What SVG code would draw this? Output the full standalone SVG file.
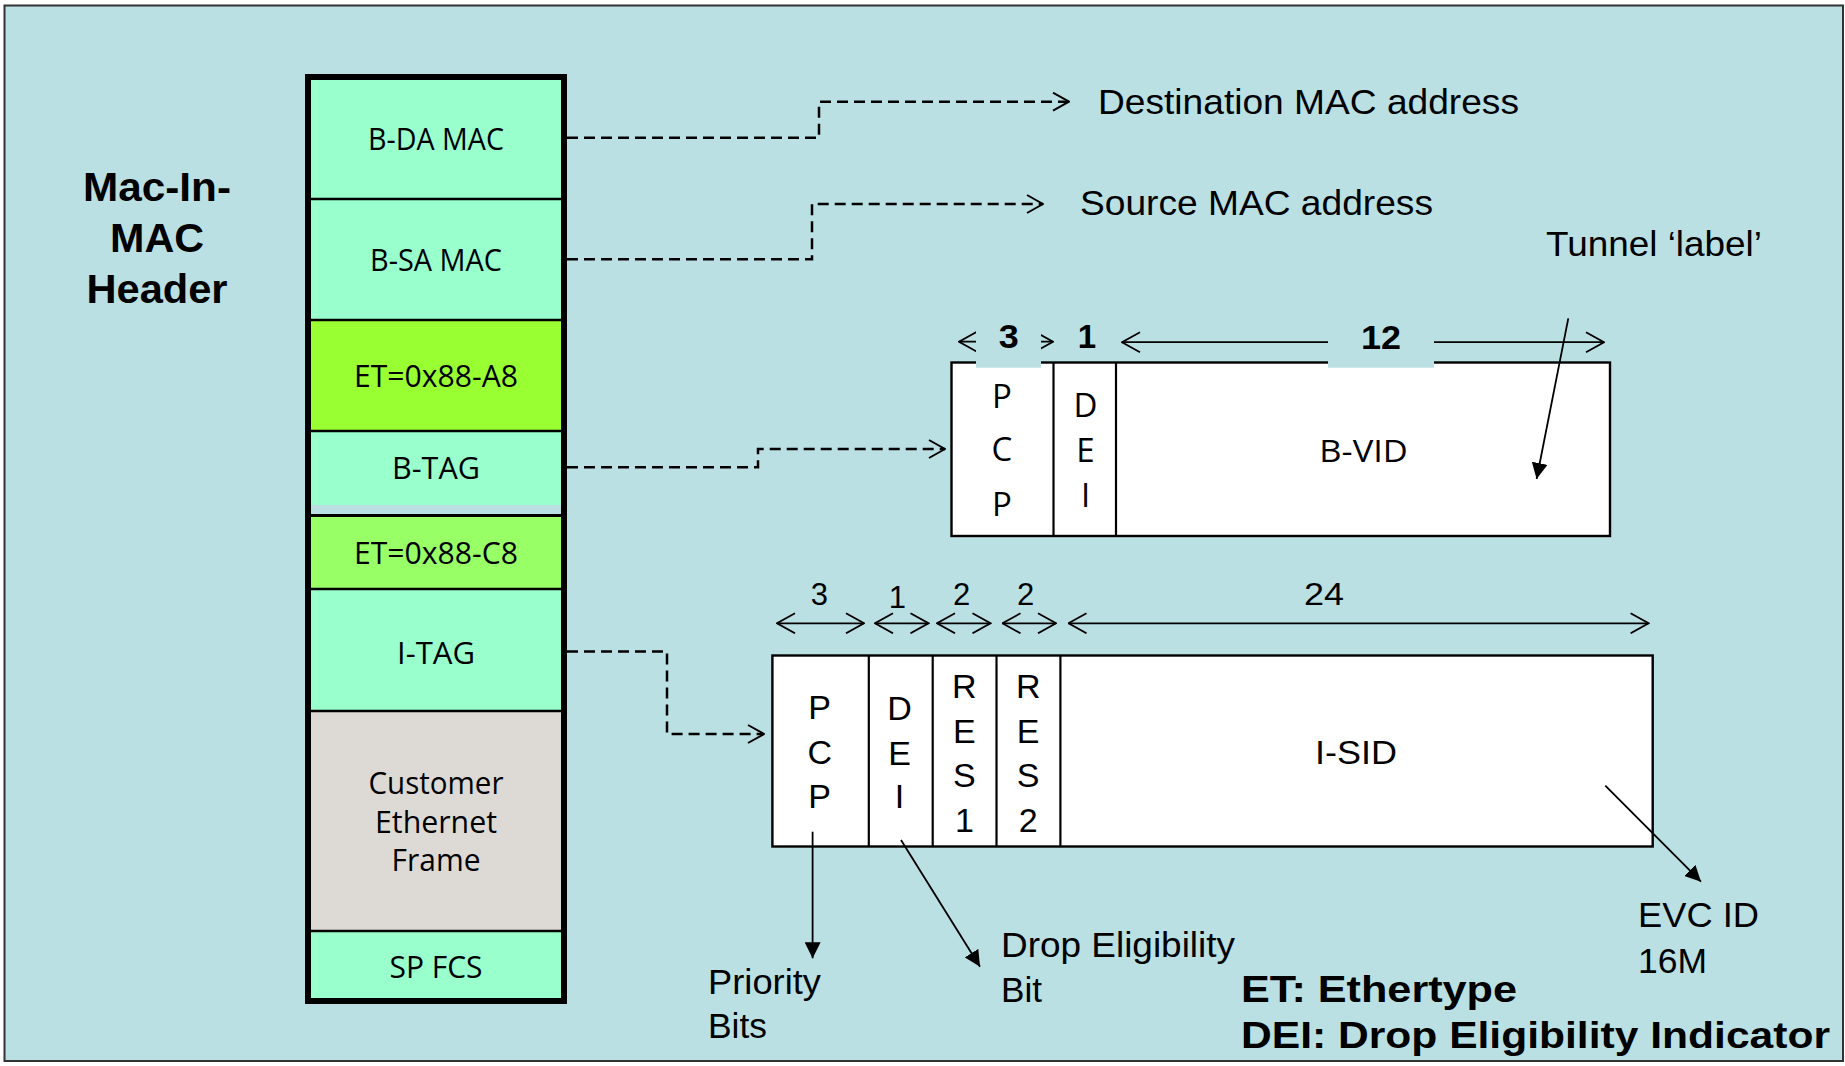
<svg xmlns="http://www.w3.org/2000/svg" width="1845" height="1066" viewBox="0 0 1845 1066">
  <style>
    .cell { font-family: "Open Sans", "Noto Sans", sans-serif; font-size: 31px; fill: #000; text-anchor: middle; }
    .tall { font-size: 33px; }
    .lbl { font-family: "Liberation Sans", Arial, sans-serif; font-size: 35px; fill: #000; }
    .fld { font-family: "Liberation Sans", Arial, sans-serif; font-size: 34px; fill: #000; text-anchor: middle; }
    .num { font-family: "Liberation Sans", Arial, sans-serif; font-size: 31px; fill: #000; text-anchor: middle; }
    .bnum { font-family: "Liberation Sans", Arial, sans-serif; font-size: 33px; font-weight: bold; fill: #000; text-anchor: middle; }
    .title { font-family: "Liberation Sans", Arial, sans-serif; font-size: 41px; font-weight: bold; fill: #000; text-anchor: middle; }
    .legend { font-family: "Liberation Sans", Arial, sans-serif; font-size: 36px; font-weight: bold; fill: #000; }
    .mint { fill: #99FFCC; }
    .sep { stroke: #000; stroke-width: 2.5; }
    .box { fill: #FFFFFF; stroke: #000; stroke-width: 2.4; }
    .div { stroke: #000; stroke-width: 2.2; }
    .dash { fill: none; stroke: #000; stroke-width: 2.5; stroke-dasharray: 11 6; }
    .dim { fill: none; stroke: #000; stroke-width: 1.8; }
    .ptr { fill: none; stroke: #000; stroke-width: 1.8; }
    .patch { fill: #BBE0E3; }
  </style>
  <defs>
    <marker id="openHead" viewBox="0 0 18 20" refX="17" refY="10" markerWidth="18" markerHeight="20" markerUnits="userSpaceOnUse" orient="auto">
      <path d="M1,1 L17,10 L1,19" fill="none" stroke="#000" stroke-width="2"/>
    </marker>
    <marker id="dimHead" viewBox="0 0 20 22" refX="19" refY="11" markerWidth="20" markerHeight="22" markerUnits="userSpaceOnUse" orient="auto-start-reverse">
      <path d="M1,1 L19,11 L1,21" fill="none" stroke="#000" stroke-width="1.8"/>
    </marker>
    <marker id="solidHead" viewBox="0 0 16 16" refX="16" refY="8" markerWidth="16" markerHeight="16" markerUnits="userSpaceOnUse" orient="auto">
      <path d="M0,0 L16,8 L0,16 z" fill="#000"/>
    </marker>
  </defs>

  <!-- slide background and frame -->
  <rect x="4.5" y="5.5" width="1838.5" height="1055.5" fill="#BBE0E3" stroke="#333" stroke-width="2"/>

  <!-- heading -->
  <g id="title">
    <text class="title" x="157" y="201" textLength="148" lengthAdjust="spacingAndGlyphs">Mac-In-</text>
    <text class="title" x="157" y="252" textLength="94" lengthAdjust="spacingAndGlyphs">MAC</text>
    <text class="title" x="157" y="303" textLength="141" lengthAdjust="spacingAndGlyphs">Header</text>
  </g>

  <!-- frame stack -->
  <g id="frame-stack">
    <rect class="mint" x="311" y="80" width="250" height="119"/>
    <rect class="mint" x="311" y="199" width="250" height="121"/>
    <rect x="311" y="320" width="250" height="111" fill="#99FF33"/>
    <rect class="mint" x="311" y="431" width="250" height="74"/>
    <rect x="311" y="514" width="250" height="75" fill="#99FF66"/>
    <rect class="mint" x="311" y="589" width="250" height="122"/>
    <rect x="311" y="711" width="250" height="220" fill="#DDDAD6"/>
    <rect class="mint" x="311" y="931" width="250" height="67"/>
    <line class="sep" x1="308" y1="199" x2="564" y2="199"/>
    <line class="sep" x1="308" y1="320" x2="564" y2="320"/>
    <line class="sep" x1="308" y1="431" x2="564" y2="431"/>
    <line x1="308" y1="515.5" x2="564" y2="515.5" stroke="#000" stroke-width="3"/>
    <line class="sep" x1="308" y1="589" x2="564" y2="589"/>
    <line class="sep" x1="308" y1="711" x2="564" y2="711"/>
    <line class="sep" x1="308" y1="931" x2="564" y2="931"/>
    <rect x="308" y="77" width="256" height="924" fill="none" stroke="#000" stroke-width="6"/>
    <text class="cell" x="436" y="150" textLength="136" lengthAdjust="spacingAndGlyphs">B-DA MAC</text>
    <text class="cell" x="436" y="271" textLength="132" lengthAdjust="spacingAndGlyphs">B-SA MAC</text>
    <text class="cell" x="436" y="387" textLength="164" lengthAdjust="spacingAndGlyphs">ET=0x88-A8</text>
    <text class="cell" x="436" y="479" textLength="88" lengthAdjust="spacingAndGlyphs">B-TAG</text>
    <text class="cell" x="436" y="564" textLength="164" lengthAdjust="spacingAndGlyphs">ET=0x88-C8</text>
    <text class="cell" x="436" y="664" textLength="78" lengthAdjust="spacingAndGlyphs">I-TAG</text>
    <text class="cell" x="436" y="794" textLength="135" lengthAdjust="spacingAndGlyphs">Customer</text>
    <text class="cell" x="436" y="833" textLength="122" lengthAdjust="spacingAndGlyphs">Ethernet</text>
    <text class="cell" x="436" y="871" textLength="89" lengthAdjust="spacingAndGlyphs">Frame</text>
    <text class="cell" x="436" y="978" textLength="93" lengthAdjust="spacingAndGlyphs">SP FCS</text>
  </g>

  <!-- address labels -->
  <g id="dest-mac">
    <text class="lbl" x="1098" y="114" textLength="421" lengthAdjust="spacingAndGlyphs">Destination MAC address</text>
  </g>
  <g id="src-mac">
    <text class="lbl" x="1080" y="215" textLength="353" lengthAdjust="spacingAndGlyphs">Source MAC address</text>
  </g>
  <g id="tunnel-label">
    <text class="lbl" x="1546" y="256" textLength="216" lengthAdjust="spacingAndGlyphs">Tunnel ‘label’</text>
  </g>

  <!-- B-TAG layout -->
  <g id="btag-fields">
    <rect class="box" x="951.5" y="362.5" width="658.5" height="173.5"/>
    <line class="div" x1="1053.5" y1="362.5" x2="1053.5" y2="536"/>
    <line class="div" x1="1116" y1="362.5" x2="1116" y2="536"/>
    <line class="dim" x1="959" y1="341.7" x2="1053" y2="341.7" marker-start="url(#dimHead)" marker-end="url(#dimHead)"/>
    <line class="dim" x1="1122" y1="342.2" x2="1604" y2="342.2" marker-start="url(#dimHead)" marker-end="url(#dimHead)"/>
    <rect class="patch" x="976" y="318" width="65" height="49.7"/>
    <rect class="patch" x="1328" y="318" width="106" height="49.7"/>
    <text class="bnum" x="1008.8" y="348.3" textLength="20" lengthAdjust="spacingAndGlyphs">3</text>
    <text class="bnum" x="1087" y="348.3">1</text>
    <text class="bnum" x="1381" y="349" textLength="40" lengthAdjust="spacingAndGlyphs">12</text>
    <text class="cell tall" x="1002" y="408">P</text>
    <text class="cell tall" x="1002" y="461">C</text>
    <text class="cell tall" x="1002" y="516">P</text>
    <text class="cell tall" x="1085.5" y="417">D</text>
    <text class="cell tall" x="1085.5" y="462">E</text>
    <text class="cell tall" x="1085.5" y="507">I</text>
    <text class="cell" x="1363.6" y="462" textLength="88.5" lengthAdjust="spacingAndGlyphs">B-VID</text>
  </g>

  <!-- I-TAG layout -->
  <g id="itag-fields">
    <rect class="box" x="772.4" y="655.5" width="880.3" height="191"/>
    <line class="div" x1="868.8" y1="655.5" x2="868.8" y2="846.5"/>
    <line class="div" x1="932.7" y1="655.5" x2="932.7" y2="846.5"/>
    <line class="div" x1="996.5" y1="655.5" x2="996.5" y2="846.5"/>
    <line class="div" x1="1060.4" y1="655.5" x2="1060.4" y2="846.5"/>
    <line class="dim" x1="777" y1="623.3" x2="864" y2="623.3" marker-start="url(#dimHead)" marker-end="url(#dimHead)"/>
    <line class="dim" x1="875" y1="623.3" x2="928.5" y2="623.3" marker-start="url(#dimHead)" marker-end="url(#dimHead)"/>
    <line class="dim" x1="937" y1="623.3" x2="990.5" y2="623.3" marker-start="url(#dimHead)" marker-end="url(#dimHead)"/>
    <line class="dim" x1="1002.5" y1="623.3" x2="1056" y2="623.3" marker-start="url(#dimHead)" marker-end="url(#dimHead)"/>
    <line class="dim" x1="1068.5" y1="623.3" x2="1648.6" y2="623.3" marker-start="url(#dimHead)" marker-end="url(#dimHead)"/>
    <text class="num" x="819.3" y="605">3</text>
    <text class="num" x="897.3" y="608">1</text>
    <text class="num" x="961.7" y="605">2</text>
    <text class="num" x="1025.7" y="605">2</text>
    <text class="num" x="1324" y="605" textLength="40" lengthAdjust="spacingAndGlyphs">24</text>
    <text class="fld" x="819.7" y="719">P</text>
    <text class="fld" x="819.7" y="764">C</text>
    <text class="fld" x="819.7" y="808">P</text>
    <text class="fld" x="899.6" y="720">D</text>
    <text class="fld" x="899.6" y="765">E</text>
    <text class="fld" x="899.6" y="808">I</text>
    <text class="fld" x="964.4" y="698">R</text>
    <text class="fld" x="964.4" y="743">E</text>
    <text class="fld" x="964.4" y="787">S</text>
    <text class="fld" x="964.4" y="832">1</text>
    <text class="fld" x="1028.2" y="698">R</text>
    <text class="fld" x="1028.2" y="743">E</text>
    <text class="fld" x="1028.2" y="787">S</text>
    <text class="fld" x="1028.2" y="832">2</text>
    <text class="fld" x="1356" y="764" font-size="34" textLength="82" lengthAdjust="spacingAndGlyphs">I-SID</text>
  </g>

  <!-- field notes -->
  <g id="priority-note">
    <text class="lbl" x="708" y="994" textLength="113" lengthAdjust="spacingAndGlyphs">Priority</text>
    <text class="lbl" x="708" y="1038" textLength="59" lengthAdjust="spacingAndGlyphs">Bits</text>
  </g>
  <g id="dei-note">
    <text class="lbl" x="1001" y="957" textLength="234" lengthAdjust="spacingAndGlyphs">Drop Eligibility</text>
    <text class="lbl" x="1001" y="1002" textLength="41" lengthAdjust="spacingAndGlyphs">Bit</text>
  </g>
  <g id="evc-note">
    <text class="lbl" x="1638" y="927" textLength="121" lengthAdjust="spacingAndGlyphs">EVC ID</text>
    <text class="lbl" x="1638" y="973" textLength="69" lengthAdjust="spacingAndGlyphs">16M</text>
  </g>

  <!-- abbreviations -->
  <g id="legend">
    <text class="legend" x="1241" y="1002" textLength="276" lengthAdjust="spacingAndGlyphs">ET: Ethertype</text>
    <text class="legend" x="1241" y="1048" textLength="589" lengthAdjust="spacingAndGlyphs">DEI: Drop Eligibility Indicator</text>
  </g>

  <!-- connectors -->
  <g id="connectors">
    <path class="dash" d="M567,137.7 H819 V101.7 H1069" marker-end="url(#openHead)"/>
    <path class="dash" d="M567,259.3 H812 V204 H1043" marker-end="url(#openHead)"/>
    <path class="dash" d="M567,467.3 H758 V449 H945" marker-end="url(#openHead)"/>
    <path class="dash" d="M567,651.6 H667 V734 H764" marker-end="url(#openHead)"/>
    <line class="ptr" x1="1568.3" y1="318.3" x2="1536.6" y2="479" marker-end="url(#solidHead)"/>
    <line class="ptr" x1="812.6" y1="831.7" x2="812.6" y2="958.3" marker-end="url(#solidHead)"/>
    <line class="ptr" x1="901" y1="840" x2="980" y2="966.7" marker-end="url(#solidHead)"/>
    <line class="ptr" x1="1605.3" y1="785.7" x2="1701" y2="881.7" marker-end="url(#solidHead)"/>
  </g>
</svg>
